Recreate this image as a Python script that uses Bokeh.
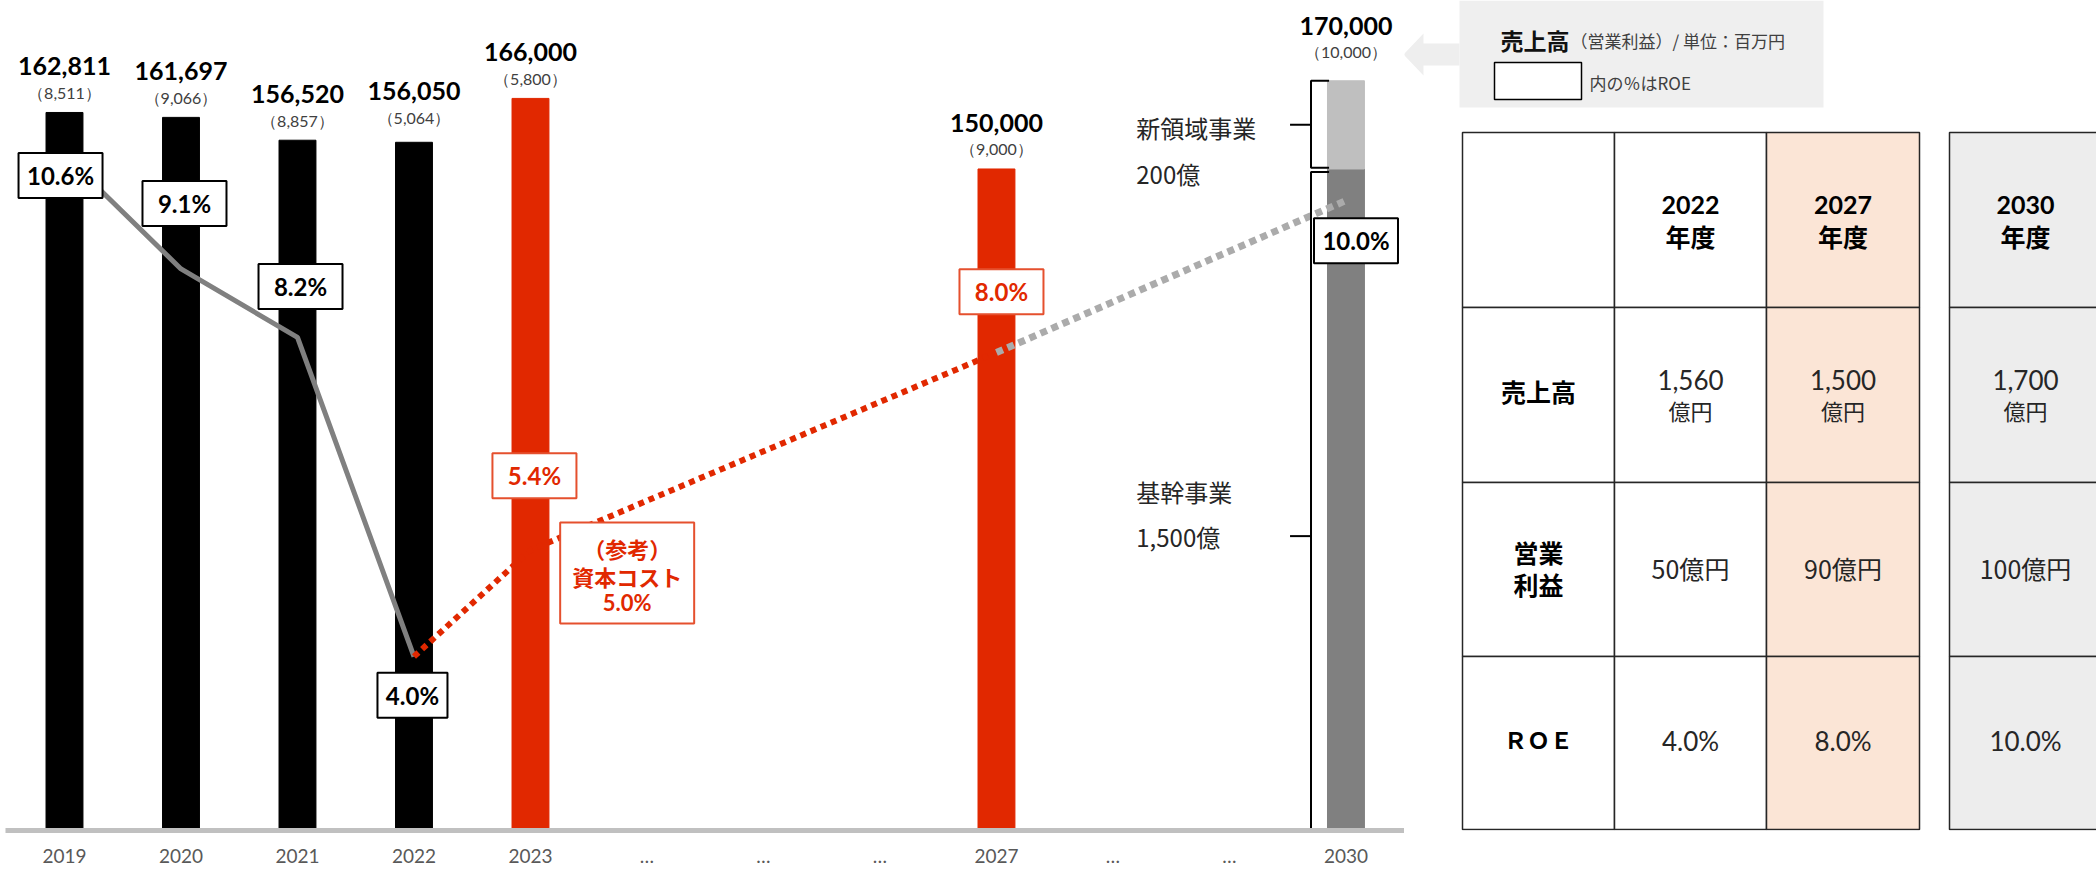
from bokeh.plotting import figure
from bokeh.models import Range1d, FixedTicker
from bokeh.layouts import row
from bokeh.embed import file_html
from bokeh.resources import INLINE
from bokeh.core.properties import value

# ---------------- data ----------------
x_labels = ["2019", "2020", "2021", "2022", "2023", "…", "…", "…", "2027", "…", "…", "2030"]
years = ["2019", "2020", "2021", "2022", "2023", "2027", "2030"]
sales = [162811, 161697, 156520, 156050, 166000, 150000, 170000]      # 売上高（百万円）
op_income = [8511, 9066, 8857, 5064, 5800, 9000, 10000]               # 営業利益（百万円）
roe = [10.6, 9.1, 8.2, 4.0, 5.4, 8.0, 10.0]                           # ROE (%)
core_2030 = 150000        # 基幹事業
new_2030 = 20000          # 新領域事業
capital_cost = 5.0        # 資本コスト (%)
seg_names = ["新領域事業", "基幹事業"]
seg_oku = [200, 1500]
table_years = ["2022", "2027", "2030"]
table_sales_oku = [1560, 1500, 1700]
table_op_oku = [50, 90, 100]
table_roe = [4.0, 8.0, 10.0]

# ---------------- styles ----------------
RED = "#E12800"
RED_BOX = "#E5502E"
NUM = "Lato"
JP = "Noto Sans CJK JP"
BW = 0.317
FRAME_H = 830   # frame bottom (pixels from top)

xi = [x_labels.index(y) for y in years]

p = figure(width=1404, height=869, output_backend="svg", toolbar_location=None,
           x_range=Range1d(-0.5064, 11.5025), y_range=Range1d(0, 188200),
           x_axis_location="below", y_axis_location=None,
           min_border_left=5, min_border_right=0, min_border_top=0,
           min_border_bottom=869 - FRAME_H)
p.extra_y_ranges = {"roe": Range1d(1.711, 12.632)}
p.outline_line_color = None
p.grid.visible = False
p.background_fill_color = "white"
p.border_fill_color = "white"

ax = p.xaxis[0]
ax.ticker = FixedTicker(ticks=list(range(len(x_labels))))
ax.major_label_overrides = {i: lab for i, lab in enumerate(x_labels)}
ax.axis_line_color = "#c0c0c0"
ax.axis_line_width = 5
ax.major_tick_line_color = None
ax.major_tick_out = 0
ax.major_tick_in = 0
ax.minor_tick_line_color = None
ax.minor_tick_out = 0
ax.minor_tick_in = 0
ax.major_label_standoff = 13
ax.major_label_text_font = NUM
ax.major_label_text_font_size = "19px"
ax.major_label_text_color = "#595959"

# bars
p.vbar(x=xi[:4], top=sales[:4], width=BW, color="black")
p.vbar(x=xi[4:6], top=sales[4:6], width=BW, color=RED)
p.vbar(x=[xi[6]], bottom=0, top=[core_2030], width=BW, color="#808080")
p.vbar(x=[xi[6]], bottom=[core_2030], top=[core_2030 + new_2030], width=BW, color="#bfbfbf")

# value labels
lift = [0, 0, 0, 5, 0, 0, 9]
p.text(x=xi, y=sales, text=[f"{v:,}" for v in sales], y_offset=[-46 - d for d in lift],
       text_font=value(NUM), text_font_style="bold", text_font_size="25px",
       text_align="center", text_baseline="middle", text_color="black")
p.text(x=xi, y=sales, text=[f"（{v:,}）" for v in op_income], y_offset=[-20 - d for d in lift],
       text_font=value(NUM), text_font_size="16px",
       text_align="center", text_baseline="middle", text_color="#404040")

# ROE lines
p.line(x=xi[:4], y=roe[:4], y_range_name="roe", line_color="#808080", line_width=5)
p.line(x=xi[3:6], y=roe[3:6], y_range_name="roe", line_color=RED, line_width=6, line_dash="6 5")
p.line(x=xi[5:7], y=roe[5:7], y_range_name="roe", line_color="#ababab", line_width=7, line_dash="7 5")

# ROE boxes
box_dx = [-0.034, 0.03, 0.026, -0.013, 0.034, 0.043, 0.086]
box_dy = [-0.27, 0.86, 0.67, -0.51, 0.98, 0.80, -0.53]
box_w = [84, 84, 84, 70, 84, 84, 84]
plan = [False, False, False, False, True, True, False]
bx = [x + d for x, d in zip(xi, box_dx)]
by = [r + d for r, d in zip(roe, box_dy)]
p.rect(x=bx, y=by, width=box_w, height=45, width_units="screen", height_units="screen",
       y_range_name="roe", fill_color="white",
       line_color=[RED_BOX if f else "black" for f in plan], line_width=2)
p.text(x=bx, y=by, text=[f"{r:.1f}%" for r in roe], y_range_name="roe",
       text_font=value(NUM), text_font_style="bold", text_font_size="24px",
       text_align="center", text_baseline="middle",
       text_color=[RED if f else "black" for f in plan])

# capital cost note
cx, cy = 4.83, capital_cost + 0.1
p.rect(x=[cx], y=[cy], width=134, height=101, width_units="screen", height_units="screen",
       y_range_name="roe", fill_color="white", line_color=RED_BOX, line_width=2)
for t_, off in [("（参考）", -25), ("資本コスト", 3), (f"{capital_cost:.1f}%", 30)]:
    p.text(x=[cx], y=[cy], text=[t_], y_offset=off, y_range_name="roe",
           text_font=value(JP if "%" not in t_ else NUM), text_font_style="bold",
           text_font_size="22px", text_align="center", text_baseline="middle", text_color=RED)

# brackets for 2030 segments
x30 = xi[6]
bkx, rx, lx = x30 - 0.30, x30 - 0.145, x30 - 0.48
top_new = core_2030 + new_2030
p.multi_line(xs=[[rx, bkx, bkx, rx], [lx, bkx], [rx, bkx, bkx, rx], [lx, bkx]],
             ys=[[top_new, top_new, core_2030 + 300, core_2030 + 300],
                 [core_2030 + new_2030 / 2] * 2,
                 [core_2030 - 700, core_2030 - 700, 0, 0],
                 [core_2030 * 0.445] * 2],
             line_color="black", line_width=2)
tx = x30 - 1.8
p.text(x=[tx, tx], y=[core_2030 + new_2030 / 2] * 2,
       text=[seg_names[0], f"{seg_oku[0]:,}億"], y_offset=[3, 49],
       text_font=value(JP), text_font_size="24px", text_align="left",
       text_baseline="middle", text_color="#262626")
p.text(x=[tx, tx], y=[core_2030 * 0.445] * 2,
       text=[seg_names[1], f"{seg_oku[1]:,}億"], y_offset=[-45, 0],
       text_font=value(JP), text_font_size="24px", text_align="left",
       text_baseline="middle", text_color="#262626")

# ---------------- right panel: legend + table ----------------
# frames in a row are aligned, so this panel's frame spans pixel rows 0..FRAME_H
q = figure(width=692, height=869, output_backend="svg", toolbar_location=None,
           x_range=Range1d(1404, 2096), y_range=Range1d(FRAME_H, 0),
           x_axis_location=None, y_axis_location=None, min_border=0,
           min_border_bottom=869 - FRAME_H)
q.outline_line_color = None
q.grid.visible = False

q.patch(x=[1403, 1423, 1423, 1459, 1459, 1423, 1423], y=[54, 33, 43, 43, 65, 65, 75],
        fill_color="#eeeeee", line_color=None)
q.quad(left=[1459], right=[1823], top=[0], bottom=[107], fill_color="#efefef", line_color=None)
q.text(x=[1500], y=[39], text=["売上高"], text_font=value(JP), text_font_style="bold",
       text_font_size="23px", text_baseline="middle", text_color="#111111")
q.text(x=[1570], y=[40], text=["（営業利益）/ 単位：百万円"], text_font=value(JP),
       text_font_size="17px", text_baseline="middle", text_color="#404040")
q.quad(left=[1494], right=[1581], top=[62], bottom=[99], fill_color="white",
       line_color="black", line_width=1.5)
q.text(x=[1589], y=[82], text=["内の％はROE"], text_font=value(JP),
       text_font_size="17px", text_baseline="middle", text_color="#404040")

col_l = [1462, 1614, 1766, 1949]
col_r = [1614, 1766, 1919, 2101]
row_t = [132, 307, 482, 656]
row_b = [307, 482, 656, 829]
col_fill = ["white", "white", "#fbe5d6", "#ededed"]
L, R, T, B, F = [], [], [], [], []
for c in range(4):
    for r_ in range(4):
        L.append(col_l[c]); R.append(col_r[c]); T.append(row_t[r_]); B.append(row_b[r_]); F.append(col_fill[c])
q.quad(left=L, right=R, top=T, bottom=B, fill_color=F, line_color="#262626", line_width=1.5)

ccx = [(a + b) / 2 for a, b in zip(col_l, col_r)]
ccx[3] = 2025
rcy = [(a + b) / 2 for a, b in zip(row_t, row_b)]


def t(x, y, s, size, bold=False, font=JP, off=0, color="#262626"):
    q.text(x=[x], y=[y], text=[s], y_offset=off, text_font=value(font),
           text_font_style="bold" if bold else "normal", text_font_size=size,
           text_align="center", text_baseline="middle", text_color=color)


for k, yr in enumerate(table_years):
    t(ccx[k + 1], rcy[0], yr, "25px", True, NUM, -15, "black")
    t(ccx[k + 1], rcy[0], "年度", "25px", True, JP, 16, "black")
    t(ccx[k + 1], rcy[1], f"{table_sales_oku[k]:,}", "26px", False, NUM, -15)
    t(ccx[k + 1], rcy[1], "億円", "22px", False, JP, 15)
    t(ccx[k + 1], rcy[2], f"{table_op_oku[k]}億円", "25px", False, JP, -2)
    t(ccx[k + 1], rcy[3], f"{table_roe[k]:.1f}%", "26px", False, NUM, -2)

t(ccx[0], rcy[1], "売上高", "25px", True, JP, -4, "black")
t(ccx[0], rcy[2], "営業", "25px", True, JP, -18, "black")
t(ccx[0], rcy[2], "利益", "25px", True, JP, 14, "black")
t(ccx[0], rcy[3], "ＲＯＥ", "23px", True, JP, -4, "black")

layout = row(p, q)
open("out.html", "w").write(file_html(layout, INLINE))
